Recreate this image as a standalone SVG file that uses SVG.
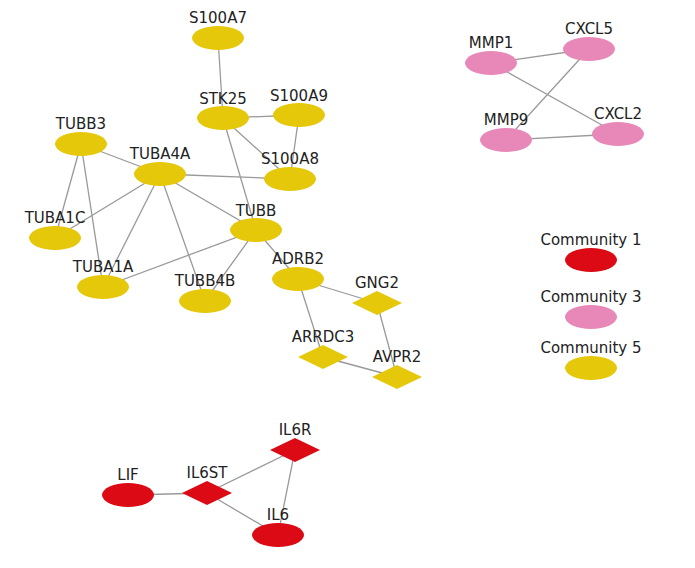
<svg xmlns="http://www.w3.org/2000/svg" width="695" height="568" viewBox="0 0 695 568">
<style>
.y{fill:#E6C80A}
.r{fill:#DC0A14}
.p{fill:#E888B8}
text{font-family:"DejaVu Sans",sans-serif;font-size:15px;fill:#222;text-anchor:middle}
#edges line{stroke:#999;stroke-width:1.3}
</style>
<defs>
<ellipse id="el" cx="0" cy="0" rx="26" ry="12"/>
<polygon id="dm" points="-25,0 0,-12 25,0 0,12"/>
</defs>
<rect width="695" height="568" fill="#fff"/>
<g id="edges">
<line x1="218" y1="38" x2="223" y2="118"/>
<line x1="223" y1="118" x2="299" y2="115"/>
<line x1="223" y1="118" x2="290" y2="179"/>
<line x1="299" y1="115" x2="290" y2="179"/>
<line x1="223" y1="118" x2="256" y2="230"/>
<line x1="81" y1="144" x2="160" y2="174"/>
<line x1="81" y1="144" x2="55" y2="238"/>
<line x1="81" y1="144" x2="103" y2="287"/>
<line x1="160" y1="174" x2="290" y2="179"/>
<line x1="160" y1="174" x2="55" y2="238"/>
<line x1="160" y1="174" x2="103" y2="287"/>
<line x1="160" y1="174" x2="205" y2="301"/>
<line x1="160" y1="174" x2="256" y2="230"/>
<line x1="256" y1="230" x2="103" y2="287"/>
<line x1="256" y1="230" x2="205" y2="301"/>
<line x1="256" y1="230" x2="298" y2="279"/>
<line x1="298" y1="279" x2="377" y2="303"/>
<line x1="298" y1="279" x2="323" y2="357"/>
<line x1="377" y1="303" x2="397" y2="377"/>
<line x1="323" y1="357" x2="397" y2="377"/>
<line x1="128" y1="495" x2="207" y2="493"/>
<line x1="207" y1="493" x2="295" y2="450"/>
<line x1="207" y1="493" x2="278" y2="535"/>
<line x1="295" y1="450" x2="278" y2="535"/>
<line x1="491" y1="63" x2="589" y2="49"/>
<line x1="491" y1="63" x2="618" y2="134"/>
<line x1="589" y1="49" x2="506" y2="140"/>
<line x1="506" y1="140" x2="618" y2="134"/>
</g>
<g id="S100A7"><use href="#el" x="218" y="38" class="y"/><text x="218" y="23">S100A7</text></g>
<g id="STK25"><use href="#el" x="223" y="118" class="y"/><text x="223" y="104">STK25</text></g>
<g id="S100A9"><use href="#el" x="299" y="115" class="y"/><text x="299" y="101">S100A9</text></g>
<g id="TUBB3"><use href="#el" x="81" y="144" class="y"/><text x="81" y="129">TUBB3</text></g>
<g id="TUBA4A"><use href="#el" x="160" y="174" class="y"/><text x="160" y="159">TUBA4A</text></g>
<g id="S100A8"><use href="#el" x="290" y="179" class="y"/><text x="290" y="164">S100A8</text></g>
<g id="TUBA1C"><use href="#el" x="55" y="238" class="y"/><text x="55" y="223">TUBA1C</text></g>
<g id="TUBB"><use href="#el" x="256" y="230" class="y"/><text x="256" y="216">TUBB</text></g>
<g id="TUBA1A"><use href="#el" x="103" y="287" class="y"/><text x="103" y="272">TUBA1A</text></g>
<g id="TUBB4B"><use href="#el" x="205" y="301" class="y"/><text x="205" y="286">TUBB4B</text></g>
<g id="ADRB2"><use href="#el" x="298" y="279" class="y"/><text x="298" y="264">ADRB2</text></g>
<g id="GNG2"><use href="#dm" x="377" y="303" class="y"/><text x="377" y="288">GNG2</text></g>
<g id="ARRDC3"><use href="#dm" x="323" y="357" class="y"/><text x="323" y="342">ARRDC3</text></g>
<g id="AVPR2"><use href="#dm" x="397" y="377" class="y"/><text x="397" y="362">AVPR2</text></g>
<g id="LIF"><use href="#el" x="128" y="495" class="r"/><text x="128" y="480">LIF</text></g>
<g id="IL6ST"><use href="#dm" x="207" y="493" class="r"/><text x="207" y="478">IL6ST</text></g>
<g id="IL6R"><use href="#dm" x="295" y="450" class="r"/><text x="295" y="435">IL6R</text></g>
<g id="IL6"><use href="#el" x="278" y="535" class="r"/><text x="278" y="520">IL6</text></g>
<g id="MMP1"><use href="#el" x="491" y="63" class="p"/><text x="491" y="48">MMP1</text></g>
<g id="CXCL5"><use href="#el" x="589" y="49" class="p"/><text x="589" y="34">CXCL5</text></g>
<g id="MMP9"><use href="#el" x="506" y="140" class="p"/><text x="506" y="125">MMP9</text></g>
<g id="CXCL2"><use href="#el" x="618" y="134" class="p"/><text x="618" y="119">CXCL2</text></g>
<g id="legend1"><use href="#el" x="591" y="260" class="r"/><text x="591" y="245">Community 1</text></g>
<g id="legend3"><use href="#el" x="591" y="317" class="p"/><text x="591" y="302">Community 3</text></g>
<g id="legend5"><use href="#el" x="591" y="368" class="y"/><text x="591" y="353">Community 5</text></g>
</svg>
